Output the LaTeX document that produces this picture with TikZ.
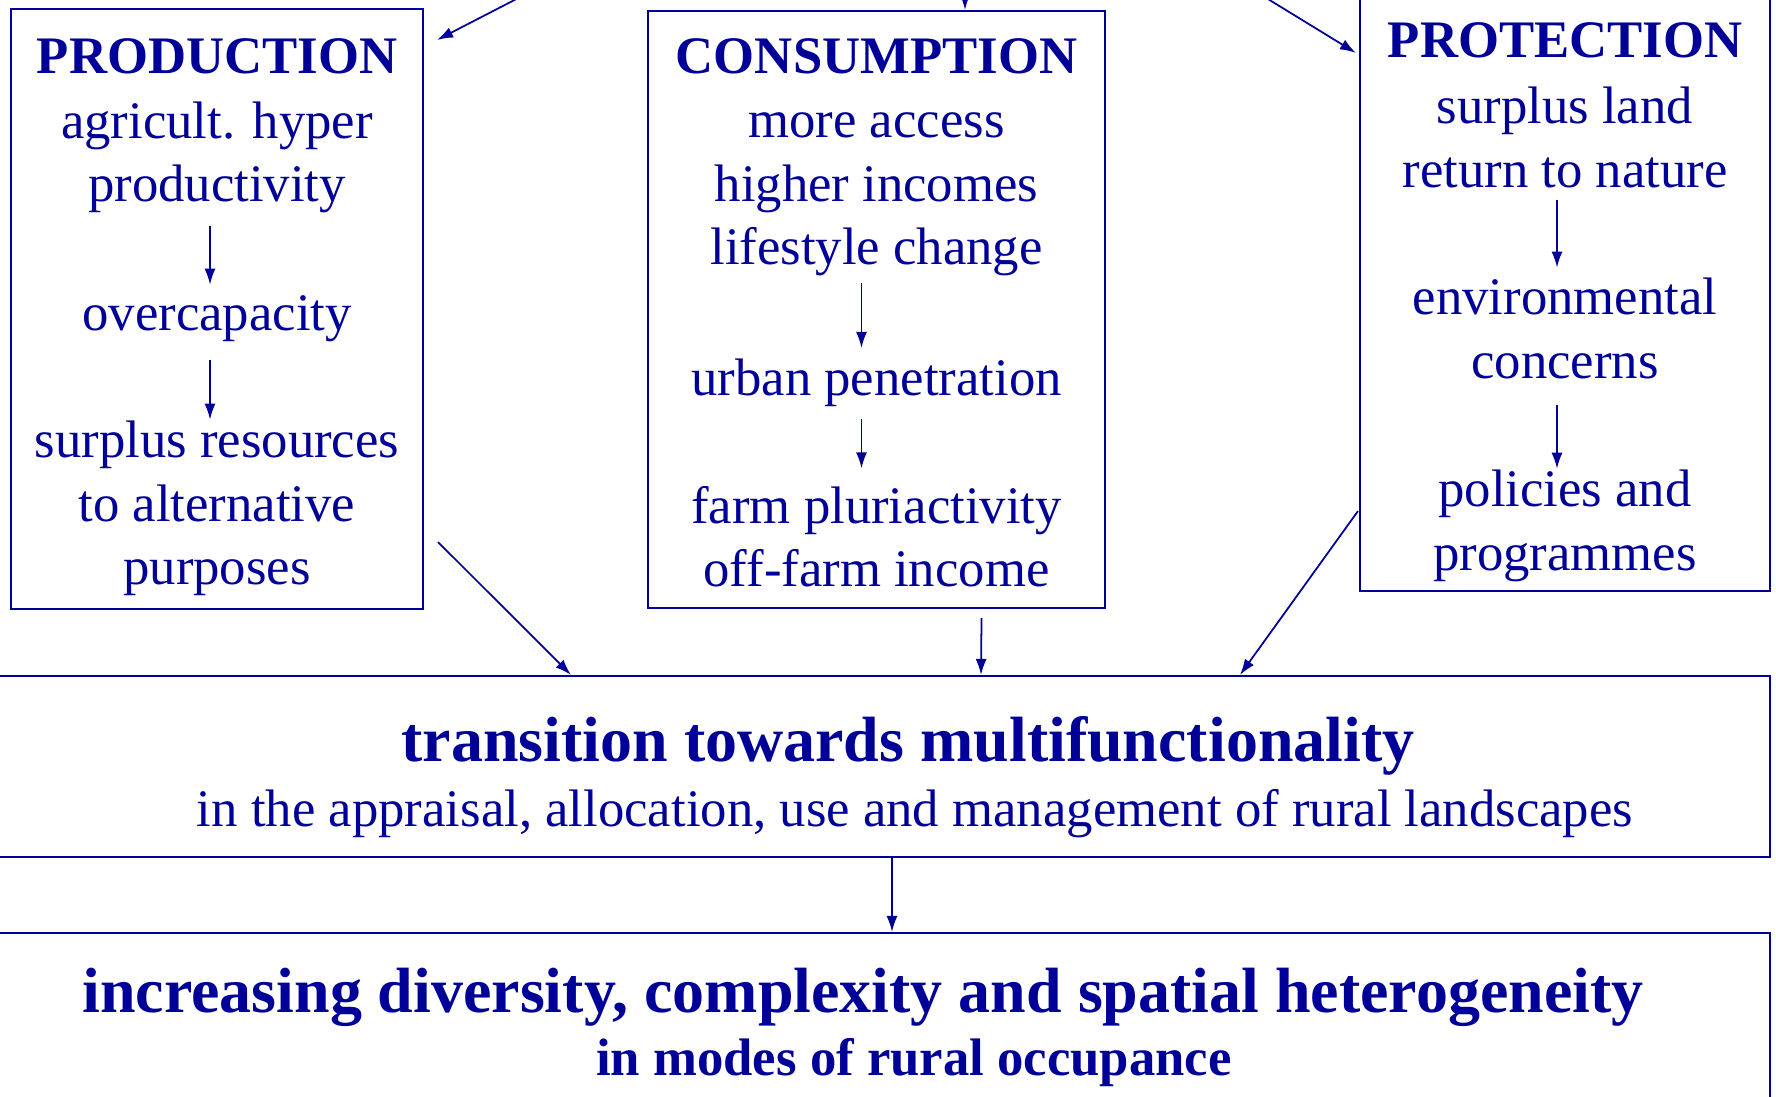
\documentclass[tikz,border=0pt]{standalone}
\usepackage{fontspec}
\setmainfont{Liberation Serif}
\usetikzlibrary{arrows.meta}
\definecolor{ink}{RGB}{0,0,153}
\tikzset{
	box/.style 2 args={draw=ink,line width=0.6pt,minimum width=#1,minimum height=#2,inner sep=0pt},
	txt/.style={text=ink,align=center,inner sep=0pt,font=\fontsize{15}{18}\selectfont},
	head/.style={txt,font=\fontsize{15}{18}\selectfont\bfseries},
	big/.style={txt,font=\fontsize{18.2}{22}\selectfont\bfseries},
	arr/.style={draw=ink,line width=0.5pt,-{Latex[length=1.6mm,width=1.1mm]}},
	inarr/.style={arr,shorten <=0.12cm,shorten >=0.1cm}
}

\begin{document}
\begin{tikzpicture}
						\useasboundingbox (0,0) rectangle (17.76,-10.96);
						\node [box={4.12cm}{6cm}] (prod) at (2.17,-3.09) {};
						\node [box={4.57cm}{5.97cm}] (cons) at (8.765,-3.095) {};
						\node [box={4.10cm}{6.21cm}] (prot) at (15.65,-2.805) {};
						\node [box={17.9cm}{1.81cm}] (trans) at (8.75,-7.665) {};
						\node [box={17.9cm}{1.87cm}] (res) at (8.75,-10.265) {};

						\node [head] (ph) at (2.17,-0.56) {PRODUCTION};
						\node [txt] (p1) at (2.17,-1.575) {agricult. hyper\\productivity};
						\node [txt] (p2) at (2.17,-3.185) {overcapacity};
						\node [txt] (p3) at (2.17,-5.085) {surplus resources\\to alternative\\purposes};

						\node [head] (ch) at (8.765,-0.56) {CONSUMPTION};
						\node [txt] (c1) at (8.765,-1.945) {more access\\higher incomes\\lifestyle change};
						\node [txt] (c2) at (8.765,-3.825) {urban penetration};
						\node [txt] (c3) at (8.765,-5.365) {farm pluriactivity\\off-farm income};

						\node [head] (rh) at (15.65,-0.40) {PROTECTION};
						\node [txt] (r1) at (15.65,-1.375) {surplus land\\return to nature};
						\node [txt] (r2) at (15.65,-3.285) {environmental\\concerns};
						\node [txt] (r3) at (15.65,-5.26) {policies and\\programmes};

						\node [big] (th) at (9.08,-7.46) {transition towards multifunctionality};
						\node [txt] (ts) at (9.15,-8.14) {in the appraisal, allocation, use and management of rural landscapes};
						\node [big] (rt) at (8.63,-9.97) {increasing diversity, complexity and spatial heterogeneity};
						\node [head] (rs) at (9.14,-10.63) {in modes of rural occupance};

						\coordinate (srcL) at (5.90,0.39);
						\coordinate (srcM) at (9.65,0.6);
						\coordinate (srcR) at (11.88,0.5);
						\draw [arr] (srcL) -- ([shift={(0.13,-0.32)}]prod.north east);
						\draw [arr] (srcM) -- (srcM |- cons.north);
						\draw [arr] (srcR) -- ([shift={(-0.03,-0.84)}]prot.north west);

						\draw [inarr] ([xshift=-0.07cm]p1.south) -- ([xshift=-0.07cm]p2.north);
						\draw [inarr,shorten <=0.18cm,shorten >=0.01cm] ([xshift=-0.07cm]p2.south) -- ([xshift=-0.07cm]p3.north);
						\draw [inarr,shorten <=0.06cm] ([xshift=-0.15cm]c1.south) -- ([xshift=-0.15cm]c2.north);
						\draw [inarr,shorten >=0.17cm] ([xshift=-0.15cm]c2.south) -- ([xshift=-0.15cm]c3.north);
						\draw [inarr] ([xshift=-0.08cm]r1.south) -- ([xshift=-0.08cm]r2.north);
						\draw [inarr,shorten <=0.26cm,shorten >=0.01cm] ([xshift=-0.08cm]r2.south) -- ([xshift=-0.08cm]r3.north);

						\draw [arr] ([shift={(0.14,0.68)}]prod.south east) -- ([xshift=-3.04cm]trans.north);
						\draw [arr] ([shift={(1.05,-0.09)}]cons.south) -- ([xshift=1.06cm]trans.north);
						\draw [arr] ([shift={(-0.01,0.81)}]prot.south west) -- ([xshift=3.65cm]trans.north);
						\draw [arr] ([xshift=0.17cm]trans.south) -- ([xshift=0.17cm]res.north);
					\end{tikzpicture}
\end{document}
